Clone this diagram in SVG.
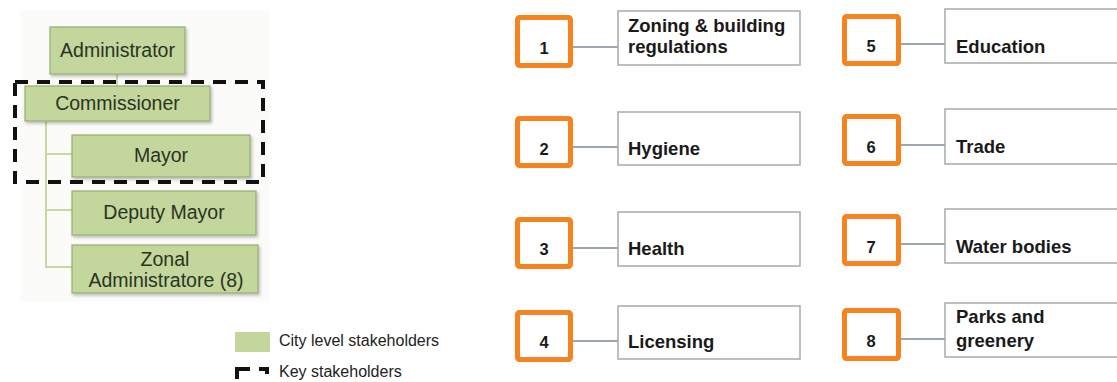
<svg xmlns="http://www.w3.org/2000/svg" width="1117" height="382" viewBox="0 0 1117 382">
  <defs>
    <filter id="soft" x="-10%" y="-10%" width="130%" height="140%">
      <feDropShadow dx="1.5" dy="2" stdDeviation="1.5" flood-color="#000" flood-opacity="0.25"/>
    </filter>
    <style>
      .org { fill: #c3d69b; stroke: #98ad74; stroke-width: 1.2; filter: url(#soft); }
      .org-t { font-family: "Liberation Sans", Arial, sans-serif; font-size: 19.5px; fill: #2b3324; text-anchor: middle; }
      .tree { stroke: #c7da9f; stroke-width: 2; fill: none; }
      .key { fill: none; stroke: #111; stroke-width: 4; stroke-dasharray: 13 9; }
      .num { fill: #fff; stroke: #f5831f; stroke-width: 5; }
      .num-t { font-family: "Liberation Sans", Arial, sans-serif; font-size: 16.5px; font-weight: bold; fill: #1a1a1a; text-anchor: middle; }
      .lab { fill: #fff; stroke: #a9a9a9; stroke-width: 1.5; }
      .lab-t { font-family: "Liberation Sans", Arial, sans-serif; font-size: 18.5px; font-weight: bold; fill: #1a1a1a; }
      .link { stroke: #7d8a9b; stroke-width: 1.5; }
      .leg-t { font-family: "Liberation Sans", Arial, sans-serif; font-size: 16px; fill: #222; }
    </style>
  </defs>

  <rect width="1117" height="382" fill="#fff"/>
  <!-- faint panel behind the org chart -->
  <rect x="20" y="10" width="249" height="292" fill="#fbfbf9"/>

  <!-- org chart connectors -->
  <g id="org-connectors">
    <line class="tree" x1="117" y1="74" x2="117" y2="86"/>
    <polyline class="tree" points="46,121 46,267 72,267"/>
    <line class="tree" x1="46" y1="154" x2="72" y2="154"/>
    <line class="tree" x1="46" y1="210" x2="72" y2="210"/>
  </g>

  <g id="administrator">
    <rect class="org" x="50" y="27" width="135" height="47"/>
    <text class="org-t" x="117.5" y="57">Administrator</text>
  </g>
  <g id="commissioner">
    <rect class="org" x="25" y="86" width="185" height="35"/>
    <text class="org-t" x="117.5" y="110">Commissioner</text>
  </g>
  <g id="mayor">
    <rect class="org" x="72" y="135" width="178" height="42"/>
    <text class="org-t" x="161" y="162">Mayor</text>
  </g>
  <g id="deputy-mayor">
    <rect class="org" x="72" y="191" width="184" height="44"/>
    <text class="org-t" x="164" y="219">Deputy Mayor</text>
  </g>
  <g id="zonal-administratore">
    <rect class="org" x="72" y="245" width="186" height="48"/>
    <text class="org-t" x="165" y="266">Zonal</text>
    <text class="org-t" x="166" y="287">Administratore (8)</text>
  </g>

  <!-- key stakeholder frame -->
  <rect id="key-frame" class="key" x="15" y="82" width="248" height="100"/>

  <!-- legend -->
  <g id="legend">
    <rect x="235" y="332" width="35" height="20" fill="#c3d69b"/>
    <text class="leg-t" x="279" y="346">City level stakeholders</text>
    <rect class="key" x="237" y="369" width="30" height="30" stroke-dasharray="14 8"/>
    <text class="leg-t" x="279" y="377">Key stakeholders</text>
  </g>

  <!-- number to topic links -->
  <g id="connectors">
    <line class="link" x1="573" y1="47" x2="618" y2="47"/>
    <line class="link" x1="573" y1="147" x2="618" y2="147"/>
    <line class="link" x1="573" y1="248" x2="618" y2="248"/>
    <line class="link" x1="573" y1="341" x2="618" y2="341"/>
    <line class="link" x1="901" y1="44" x2="945" y2="44"/>
    <line class="link" x1="901" y1="145" x2="945" y2="145"/>
    <line class="link" x1="901" y1="244" x2="945" y2="244"/>
    <line class="link" x1="901" y1="339" x2="945" y2="339"/>
  </g>

  <g id="item-1">
    <rect class="num" x="517.5" y="17.5" width="53" height="48" rx="2"/>
    <text class="num-t" x="544" y="54">1</text>
    <rect class="lab" x="618" y="11" width="182" height="54"/>
    <text class="lab-t" x="628" y="32">Zoning &amp; building</text>
    <text class="lab-t" x="628" y="53">regulations</text>
  </g>
  <g id="item-2">
    <rect class="num" x="517.5" y="118.5" width="53" height="47" rx="2"/>
    <text class="num-t" x="544" y="155">2</text>
    <rect class="lab" x="618" y="112" width="182" height="53"/>
    <text class="lab-t" x="628" y="155">Hygiene</text>
  </g>
  <g id="item-3">
    <rect class="num" x="517.5" y="219.5" width="53" height="47" rx="2"/>
    <text class="num-t" x="544" y="255">3</text>
    <rect class="lab" x="618" y="212" width="182" height="54"/>
    <text class="lab-t" x="628" y="255">Health</text>
  </g>
  <g id="item-4">
    <rect class="num" x="517.5" y="312.5" width="53" height="47" rx="2"/>
    <text class="num-t" x="544" y="348">4</text>
    <rect class="lab" x="618" y="306" width="182" height="53"/>
    <text class="lab-t" x="628" y="348">Licensing</text>
  </g>
  <g id="item-5">
    <rect class="num" x="844.5" y="16.5" width="54" height="47" rx="2"/>
    <text class="num-t" x="871" y="52">5</text>
    <rect class="lab" x="945" y="9" width="180" height="54"/>
    <text class="lab-t" x="956" y="53">Education</text>
  </g>
  <g id="item-6">
    <rect class="num" x="844.5" y="116.5" width="54" height="47" rx="2"/>
    <text class="num-t" x="871" y="153">6</text>
    <rect class="lab" x="945" y="109" width="180" height="55"/>
    <text class="lab-t" x="956" y="153">Trade</text>
  </g>
  <g id="item-7">
    <rect class="num" x="844.5" y="216.5" width="54" height="47" rx="2"/>
    <text class="num-t" x="871" y="253">7</text>
    <rect class="lab" x="945" y="209" width="180" height="54"/>
    <text class="lab-t" x="956" y="253">Water bodies</text>
  </g>
  <g id="item-8">
    <rect class="num" x="844.5" y="310.5" width="54" height="48" rx="2"/>
    <text class="num-t" x="871" y="347">8</text>
    <rect class="lab" x="945" y="303" width="180" height="54"/>
    <text class="lab-t" x="956" y="323">Parks and</text>
    <text class="lab-t" x="956" y="347">greenery</text>
  </g>
</svg>
